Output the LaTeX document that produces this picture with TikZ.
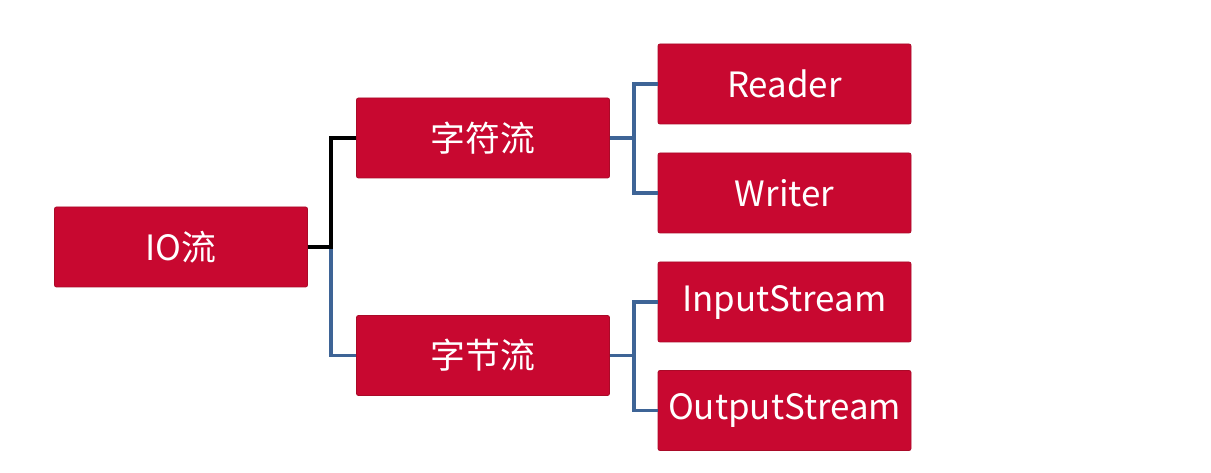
\documentclass[tikz,border=0pt]{standalone}
\usepackage{fontspec}
\setmainfont{Noto Sans CJK SC}
\definecolor{boxred}{RGB}{200,8,48}
\definecolor{boxedge}{RGB}{170,10,40}
\definecolor{lineblue}{RGB}{62,100,150}

\begin{document}
\begin{tikzpicture}[x=1bp,y=1bp,
	box/.style={fill=boxred,draw=boxedge,line width=0.8bp,rounded corners=2bp,
		minimum width=253bp,minimum height=80bp,inner sep=0pt,text=white,
		font=\fontsize{35}{40}\selectfont},
	branch/.style={line width=3.5bp}]
	\useasboundingbox (0,0) rectangle (1211,473);
	\node[box] (io) at (181,226) {IO流};
	\node[box] (zf) at (483,335) {字符流};
	\node[box] (zj) at (483,117.5) {字节流};
	\node[box] (reader) at (784.5,389) {Reader};
	\node[box] (writer) at (784.5,280) {Writer};
	\node[box] (input) at (784.5,171) {InputStream};
	\node[box] (output) at (784.5,62.5) {OutputStream};
	\coordinate (j1) at (331,226);
	\coordinate (j2) at (634,335);
	\coordinate (j3) at (634,117.5);
	\draw[branch,lineblue] (j1) |- (zj.west);
	\draw[branch,black] (io.east) -- (j1) |- (zf.west);
	\draw[branch,lineblue] (zf.east) -- (j2) |- (reader.west);
	\draw[branch,lineblue] (j2) |- (writer.west);
	\draw[branch,lineblue] (zj.east) -- (j3) |- (input.west);
	\draw[branch,lineblue] (j3) |- (output.west);
\end{tikzpicture}
\end{document}
